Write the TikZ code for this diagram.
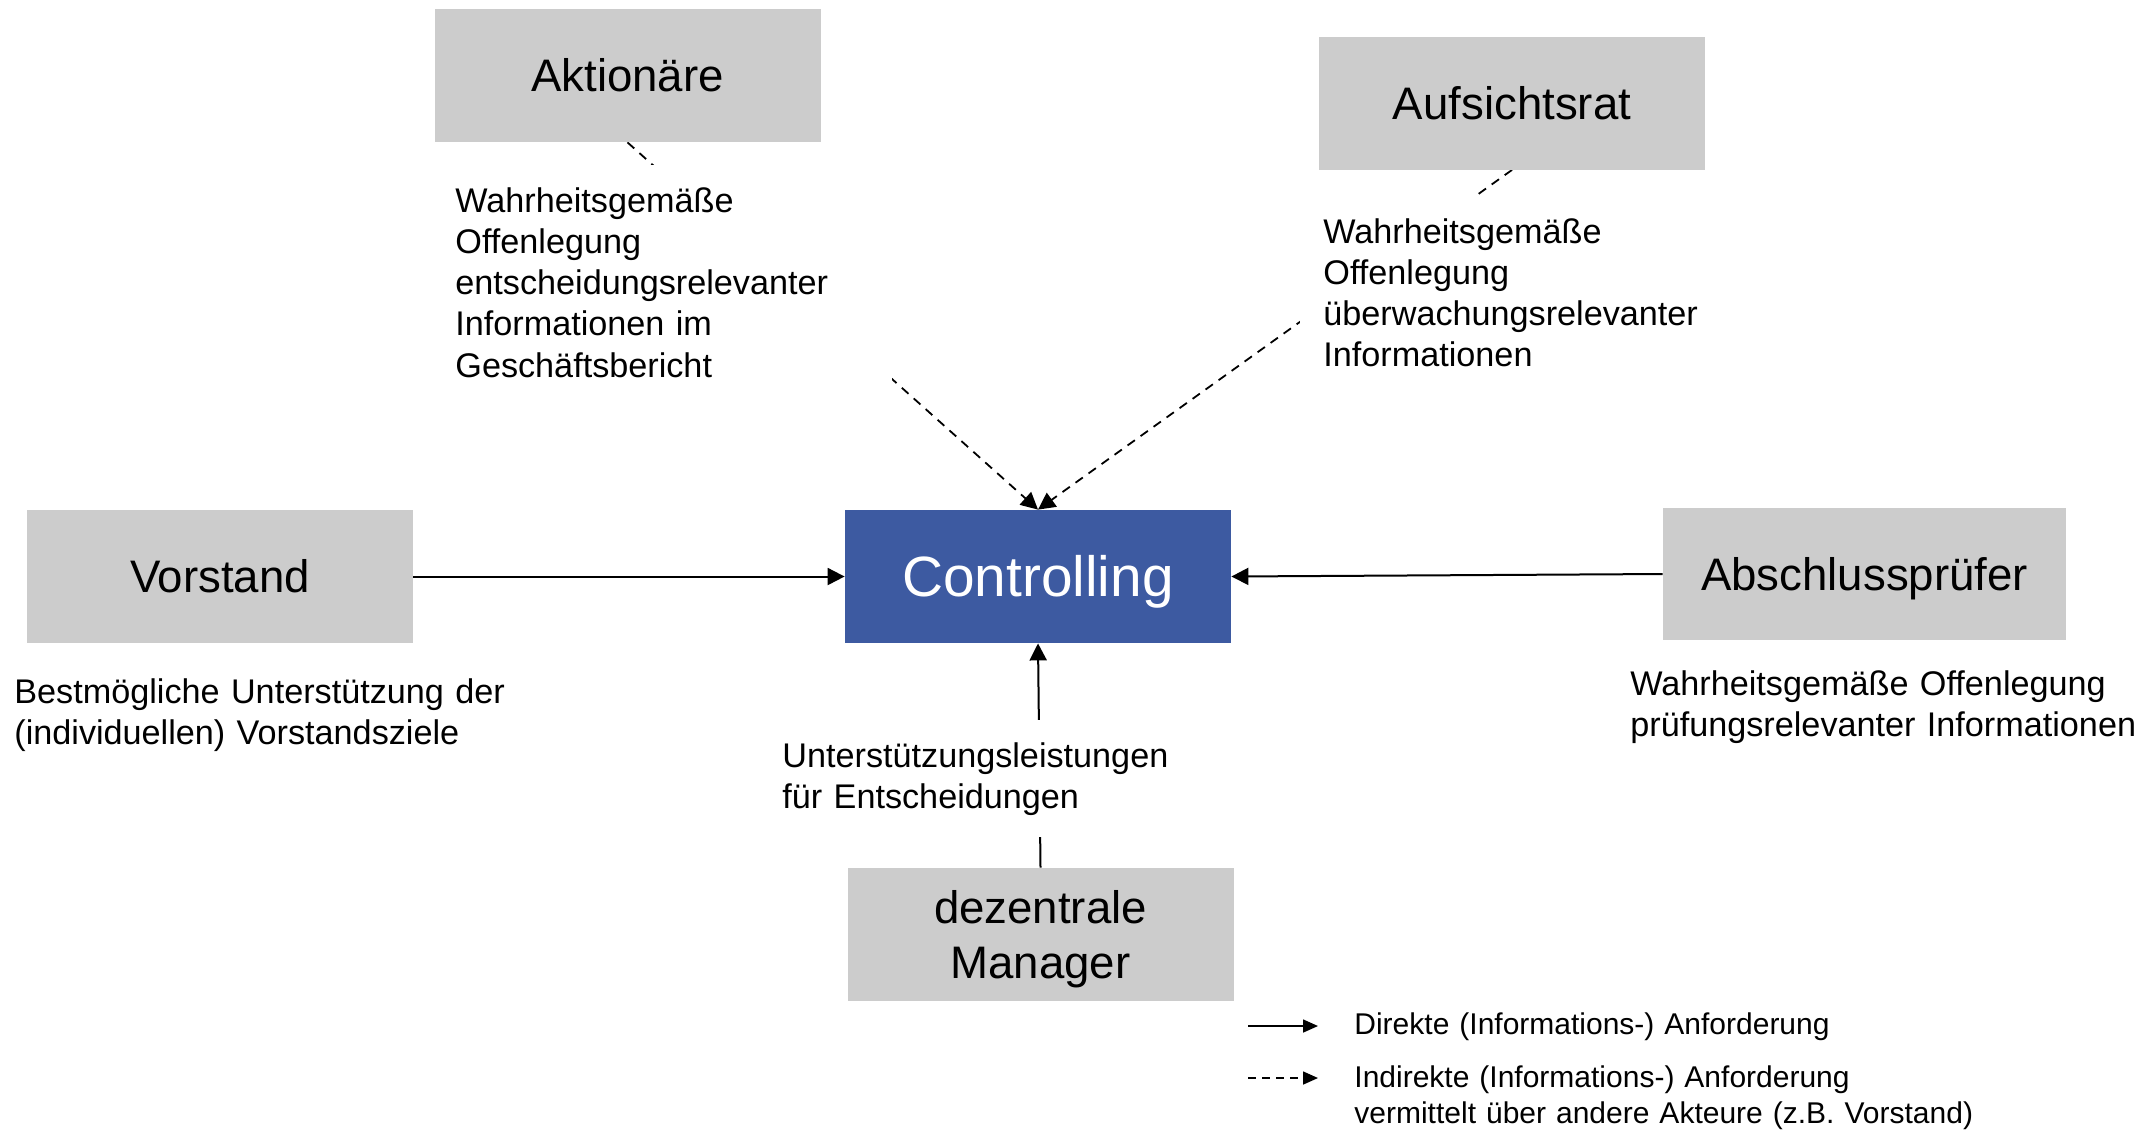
\documentclass[tikz,border=0pt]{standalone}
\usepackage{fontspec}
\setmainfont{Liberation Sans}
\usetikzlibrary{arrows.meta}
\pgfdeclarelayer{paper}
\pgfdeclarelayer{wires}
\pgfsetlayers{paper,wires,main}
\definecolor{boxgray}{RGB}{204,204,204}
\definecolor{ctrlblue}{RGB}{61,90,161}

\tikzset{
  x=0.5pt, y=-0.5pt,
  box/.style={fill=boxgray, minimum width=193pt, minimum height=66.5pt, inner sep=0pt,
    font=\fontsize{22.8pt}{27.4pt}\selectfont},
  actor/.style={box, text height=16.4pt, text depth=0pt},
  core/.style={fill=ctrlblue, text=white, minimum width=193pt, minimum height=66.5pt, inner sep=0pt,
    font=\fontsize{28.4pt}{34pt}\selectfont, text height=20.3pt, text depth=0pt},
  desc/.style={anchor=base west, align=left, inner sep=0pt, text width=#1,
    font=\fontsize{17.1pt}{20.65pt}\selectfont},
  cover/.style={desc=#1, fill=white, inner xsep=11.5pt, inner ysep=11pt},
  legtext/.style={anchor=base west, align=left, inner sep=0pt, text width=#1,
    font=\fontsize{15pt}{18.25pt}\selectfont},
  direct/.style={line width=1pt, -{Triangle[length=8.5pt,width=8.5pt]}},
  indirect/.style={line width=0.9pt, dash pattern=on 4.5pt off 3.5pt, -{Triangle[length=8.5pt,width=8.5pt]}},
  legdirect/.style={line width=0.8pt, -{Triangle[length=7.5pt,width=6.5pt]}},
  legindirect/.style={line width=0.8pt, dash pattern=on 4pt off 3pt, -{Triangle[length=7.5pt,width=6.5pt]}},
}

\begin{document}
\begin{tikzpicture}
\begin{pgfonlayer}{paper}
  \fill[white] (0,0) rectangle (2145,1132);
\end{pgfonlayer}
\useasboundingbox (0,0) rectangle (2145,1132);

% actors around the controlling unit
\node[actor] (akt) at (627.5,75.5) {Aktionäre};
\node[actor] (auf) at (1512,103) {Aufsichtsrat};
\node[actor] (vor) at (220,576.5) {Vorstand};
\node[core] (ctrl) at (1038,576.5) {Controlling};
\node[actor, minimum width=201.5pt, minimum height=66pt] (abs) at (1864.5,574) {Abschlussprüfer};
\node[box, align=center] (man) at (1040.5,934.5) {\rule{0pt}{21.1pt}dezentrale\\Manager};

% requirement texts (white boxes interrupt the connectors)
\node[cover=207pt] (akttext) at (432,212)
  {Wahrheitsgemäße\\Offenlegung\\entscheidungsrelevanter\\Informationen im\\Geschäftsbericht};
\node[cover=210pt] (auftext) at (1300,243)
  {Wahrheitsgemäße\\Offenlegung\\überwachungsrelevanter\\Informationen};
\node[cover=200pt] (mantext) at (759,767)
  {Unterstützungsleistungen\\für Entscheidungen};
\node[desc=270pt] (vortext) at (14,703)
  {Bestmögliche Unterstützung der\\(individuellen) Vorstandsziele};
\node[desc=270pt] (abstext) at (1630,695)
  {Wahrheitsgemäße Offenlegung\\prüfungsrelevanter Informationen};

% connectors
\begin{pgfonlayer}{wires}
  \draw[indirect] (akt.south) -- (ctrl.north);
  \draw[indirect] (auf.south) -- (ctrl.north);
  \draw[direct] (vor.east) -- (ctrl.west);
  \draw[direct] (abs.west) -- (ctrl.east);
  \draw[direct] (man.north) -- (ctrl.south);
\end{pgfonlayer}

% legend
\coordinate (s1) at (1248,1026);
\coordinate (e1) at (1318,1026);
\coordinate (s2) at (1248,1078);
\coordinate (e2) at (1318,1078);
\draw[legdirect] (s1) -- (e1);
\draw[legindirect] (s2) -- (e2);
\node[legtext=320pt] (leg1) at (1354,1034) {Direkte (Informations-) Anforderung};
\node[legtext=320pt] (leg2) at (1354,1087)
  {Indirekte (Informations-) Anforderung\\vermittelt über andere Akteure (z.B. Vorstand)};
\end{tikzpicture}
\end{document}
